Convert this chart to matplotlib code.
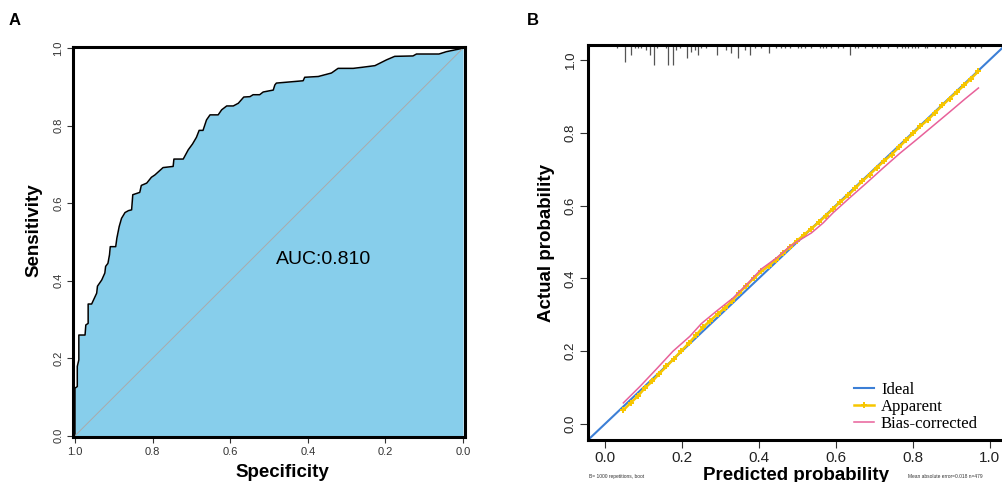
import matplotlib.pyplot as plt
import numpy as np

plt.rcParams['font.family'] = ['Liberation Sans', 'DejaVu Sans']

# ROC 데이터 (specificity, sensitivity)
roc_spec = [1.0, 1.0, 0.994, 0.994, 0.990, 0.990, 0.974, 0.972, 0.966, 0.966, 0.957,
            0.944, 0.942, 0.931, 0.923, 0.921, 0.915, 0.911, 0.909, 0.895, 0.892,
            0.886, 0.880, 0.871, 0.862, 0.854, 0.851, 0.833, 0.829, 0.815, 0.803,
            0.794, 0.773, 0.747, 0.745, 0.721, 0.708, 0.697, 0.687, 0.680, 0.670,
            0.661, 0.652, 0.631, 0.622, 0.609, 0.592, 0.579, 0.565, 0.549, 0.541,
            0.524, 0.515, 0.489, 0.485, 0.481, 0.412, 0.408, 0.373, 0.339, 0.322,
            0.283, 0.258, 0.227, 0.197, 0.176, 0.129, 0.120, 0.062, 0.043, 0.0]
roc_sens = [0.0, 0.123, 0.127, 0.179, 0.196, 0.260, 0.260, 0.286, 0.290, 0.340, 0.340,
            0.368, 0.386, 0.402, 0.420, 0.437, 0.445, 0.467, 0.488, 0.488, 0.510,
            0.540, 0.561, 0.576, 0.581, 0.583, 0.622, 0.628, 0.646, 0.652, 0.667,
            0.673, 0.692, 0.695, 0.714, 0.714, 0.738, 0.753, 0.770, 0.788, 0.788,
            0.815, 0.828, 0.828, 0.841, 0.851, 0.851, 0.858, 0.874, 0.875, 0.880,
            0.880, 0.887, 0.892, 0.905, 0.910, 0.916, 0.925, 0.927, 0.936, 0.948,
            0.948, 0.951, 0.955, 0.970, 0.979, 0.980, 0.985, 0.985, 0.991, 1.0]
auc_text = 'AUC:0.810'

# 보정 곡선 데이터
app_x = [0.048, 0.067, 0.087, 0.104, 0.123, 0.141, 0.160, 0.179, 0.199, 0.218,
         0.238, 0.255, 0.274, 0.294, 0.312, 0.331, 0.349, 0.368, 0.387, 0.407,
         0.426, 0.444, 0.463, 0.481, 0.500, 0.518, 0.537, 0.556, 0.574, 0.593,
         0.612, 0.632, 0.651, 0.669, 0.688, 0.706, 0.725, 0.745, 0.764, 0.782,
         0.801, 0.820, 0.840, 0.857, 0.877, 0.896, 0.915, 0.933, 0.952, 0.971]
app_y = [0.038, 0.058, 0.078, 0.099, 0.117, 0.138, 0.158, 0.179, 0.201, 0.222,
         0.245, 0.266, 0.284, 0.303, 0.319, 0.339, 0.360, 0.380, 0.401, 0.419,
         0.435, 0.451, 0.470, 0.486, 0.504, 0.520, 0.537, 0.554, 0.572, 0.591,
         0.610, 0.628, 0.648, 0.667, 0.685, 0.703, 0.722, 0.740, 0.760, 0.779,
         0.798, 0.818, 0.836, 0.854, 0.875, 0.894, 0.912, 0.930, 0.949, 0.969]
bias_x = [0.048, 0.091, 0.134, 0.177, 0.221, 0.251, 0.290, 0.333, 0.372, 0.407,
          0.446, 0.481, 0.506, 0.537, 0.567, 0.593, 0.636, 0.680, 0.723, 0.766,
          0.810, 0.853, 0.896, 0.935, 0.971]
bias_y = [0.058, 0.103, 0.151, 0.200, 0.241, 0.276, 0.310, 0.346, 0.387, 0.426,
          0.456, 0.488, 0.505, 0.525, 0.552, 0.580, 0.621, 0.662, 0.703, 0.743,
          0.781, 0.819, 0.857, 0.892, 0.923]

# 상단 rug (예측 확률 분포)
rug_x = [0.032, 0.052, 0.069, 0.078, 0.087, 0.095, 0.108, 0.117, 0.127, 0.136,
         0.158, 0.165, 0.177, 0.186, 0.195, 0.214, 0.225, 0.234, 0.243, 0.251,
         0.264, 0.292, 0.314, 0.329, 0.347, 0.364, 0.377, 0.390, 0.407, 0.427,
         0.446, 0.459, 0.468, 0.481, 0.502, 0.511, 0.519, 0.537, 0.558, 0.567,
         0.576, 0.589, 0.606, 0.619, 0.636, 0.649, 0.658, 0.675, 0.693, 0.706,
         0.714, 0.736, 0.758, 0.771, 0.779, 0.788, 0.797, 0.805, 0.814, 0.831,
         0.836, 0.857, 0.874, 0.887, 0.896, 0.909, 0.935, 0.948, 0.961, 0.978]
rug_n = [1, 5, 3, 1, 1, 1, 1.5, 3, 6, 1,
         1, 6, 6, 1.5, 1, 4, 2, 1.5, 3, 1,
         1, 3, 1.5, 2.5, 4, 1.5, 3, 1, 1, 2.5,
         1, 1, 1, 1, 1, 1, 1, 1, 1, 1,
         1, 1, 1, 1, 3, 1, 1, 1, 1, 1,
         1, 1, 1, 1, 1, 1, 1, 1, 1, 1,
         1, 1, 1, 1, 1, 1, 1, 1, 1, 1]

fig = plt.figure(figsize=(10.03, 4.82), dpi=100)

# ---- A: ROC ----
ax1 = fig.add_axes([0.0728, 0.0934, 0.3908, 0.809])
ax1.fill_between(roc_spec, roc_sens, 0, color='#87CEEB', lw=0)
ax1.plot(roc_spec, roc_sens, color='black', lw=1.1)
ax1.plot([1, 0], [0, 1], color='#aaaaaa', lw=0.7)
ax1.set_xlim(1.005, -0.005)
ax1.set_ylim(-0.003, 1.003)
ax1.set_xticks([1.0, 0.8, 0.6, 0.4, 0.2, 0.0])
ax1.set_yticks([0.0, 0.2, 0.4, 0.6, 0.8, 1.0])
ax1.set_xticklabels(['1.0', '0.8', '0.6', '0.4', '0.2', '0.0'], fontsize=8)
ax1.set_yticklabels(['0.0', '0.2', '0.4', '0.6', '0.8', '1.0'], fontsize=8,
                    rotation=90, va='center')
ax1.tick_params(length=4, width=0.8, color='#333333', labelcolor='#333333', pad=3)
for s in ax1.spines.values():
    s.set_linewidth(2.2)
ax1.set_xlabel('Specificity', fontsize=13.5, fontweight='bold')
ax1.set_ylabel('Sensitivity', fontsize=13.5, fontweight='bold')
ax1.xaxis.set_label_coords(0.533, -0.07)
ax1.yaxis.set_label_coords(-0.077, 0.53)
ax1.text(0.36, 0.454, auc_text, fontsize=14, ha='center', va='center')
fig.text(0.015, 0.958, 'A', fontsize=12, fontweight='bold', ha='center', va='center')

# ---- B: calibration ----
ax2 = fig.add_axes([0.5862, 0.0871, 0.4158, 0.8195])
lo, hi = -0.044, 1.041
ax2.plot([lo, hi], [lo, hi], color='#3C7FD6', lw=1.5, label='Ideal', zorder=2)
ax2.plot(app_x, app_y, color='#F7C600', lw=1.8, marker='P', ms=3.8,
         mew=0, label='Apparent', zorder=3)
ax2.plot(bias_x, bias_y, color='#E8619A', lw=1.1, label='Bias-corrected', zorder=4)
ax2.vlines(rug_x, hi - np.array(rug_n) * 0.0092, hi, color='#555555', lw=0.9)
ax2.set_xlim(lo, 1.04)
ax2.set_ylim(lo, hi)
ax2.set_xticks([0.0, 0.2, 0.4, 0.6, 0.8, 1.0])
ax2.set_yticks([0.0, 0.2, 0.4, 0.6, 0.8, 1.0])
ax2.set_xticklabels(['0.0', '0.2', '0.4', '0.6', '0.8', '1.0'], fontsize=11)
ax2.set_yticklabels(['0.0', '0.2', '0.4', '0.6', '0.8', '1.0'], fontsize=9.5,
                    rotation=90, va='center')
ax2.tick_params(length=6, width=0.8, color='#333333', labelcolor='#222222', pad=2)
for s in ax2.spines.values():
    s.set_linewidth(2.2)
ax2.set_xlabel('Predicted probability', fontsize=13.5, fontweight='bold', labelpad=1)
ax2.set_ylabel('Actual probability', fontsize=13.5, fontweight='bold', labelpad=7)
ax2.legend(loc='lower right', bbox_to_anchor=(0.955, 0.0), frameon=False,
           prop={'family': 'Liberation Serif', 'size': 12}, handlelength=1.2,
           handletextpad=0.4, labelspacing=0.05, borderaxespad=0.1)
fig.text(0.531, 0.958, 'B', fontsize=12, fontweight='bold', ha='center', va='center')
fig.text(0.587, 0.008, 'B= 1000 repetitions, boot', fontsize=3.5, color='#333333')
fig.text(0.905, 0.008, 'Mean absolute error=0.018 n=479', fontsize=3.5, color='#333333')

fig.savefig('out.png', dpi=100)
